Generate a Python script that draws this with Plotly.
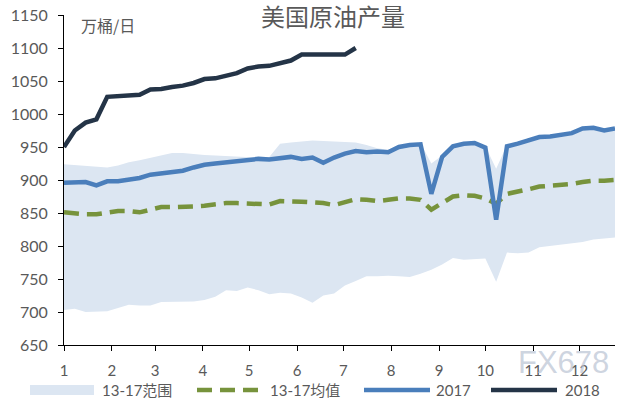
import plotly.graph_objects as go

# ---- data (weekly index 0..51, 10k bbl/day) ----
weeks = list(range(52))
range_low = [703, 705, 700, 700, 701, 706, 711, 710, 710, 715, 715, 715, 716, 718, 723, 733,
             732, 737, 733, 727, 729, 728, 722, 714, 725, 728, 740, 747, 754, 754, 755, 754,
             753, 758, 764, 772, 782, 779, 780, 781, 746, 790, 789, 790, 798, 800, 801, 804,
             806, 810, 811, 813]
range_high = [924, 923, 922, 920, 919, 922, 927, 930, 934, 937, 941, 941, 939, 938, 937, 936,
              935, 934, 934, 935, 955, 957, 958, 960, 959, 958, 958, 957, 953, 948, 946, 952,
              955, 956, 925, 937, 953, 957, 958, 951, 917, 953, 957, 962, 967, 968, 970, 973,
              980, 981, 977, 980]
mean_1317 = [851, 849, 848, 848, 851, 853, 853, 851, 855, 859, 859, 859, 860, 861, 863, 865,
             865, 864, 864, 863, 868, 868, 867, 866, 865, 862, 866, 871, 870, 868, 870, 872,
             872, 870, 855, 866, 875, 877, 876, 872, 864, 879, 882, 886, 890, 891, 892, 894,
             897, 899, 899, 900]
y2017 = [896, 896, 897, 892, 898, 898, 900, 903, 908, 910, 912, 914, 919, 923, 925, 927,
         929, 931, 932, 931, 933, 935, 932, 934, 926, 934, 940, 944, 942, 943, 942, 950,
         953, 954, 879, 935, 951, 955, 956, 949, 840, 951, 955, 960, 965, 966, 968, 971,
         978, 979, 975, 978]
y2018 = [950, 975, 987, 992, 1026, 1027, 1027, 1029, 1037, 1038, 1041, 1043, 1047, 1053,
         1054, 1058, 1062, 1069, 1072, 1073, 1077, 1081, 1090, 1090, 1090, 1090, 1090, 1100]

series_names = ["13-17范围", "13-17均值", "2017", "2018"]
month_days = [31, 28, 31, 30, 31, 30, 31, 31, 30, 31, 30, 31]
month_labels = [str(m) for m in range(1, 13)]
y_ticks = list(range(650, 1151, 50))

cum = [0]
for d in month_days[:-1]:
    cum.append(cum[-1] + d)
month_tickvals = [c / 7 for c in cum]

BAND = "#DCE6F2"
BLUE = "#4A7EBB"
DARK = "#243447"
GREEN = "#77933C"
TXT = "#595959"
FONT = "Lato, 'Noto Sans CJK SC', sans-serif"
CJK = "'Noto Sans CJK SC', sans-serif"

# plot area geometry (pixels) for placing the hand-made legend
L, R, T, B = 64, 25, 15, 55
W, H = 640, 400
PW, PH = W - L - R, H - T - B


def px(x):
    return (x - L) / PW


def py(y):
    return (H - B - y) / PH


fig = go.Figure()
fig.add_trace(go.Scatter(x=weeks, y=range_low, mode="lines", line=dict(width=0, color=BAND),
                         hoverinfo="skip", showlegend=False))
fig.add_trace(go.Scatter(x=weeks, y=range_high, mode="lines", line=dict(width=0, color=BAND),
                         fill="tonexty", fillcolor=BAND, name=series_names[0], showlegend=False))
fig.add_trace(go.Scatter(x=weeks, y=mean_1317, mode="lines",
                         line=dict(width=4.5, color=GREEN, dash="15px,8px"),
                         name=series_names[1], showlegend=False))
fig.add_trace(go.Scatter(x=weeks, y=y2017, mode="lines",
                         line=dict(width=4.5, color=BLUE), name=series_names[2], showlegend=False))
fig.add_trace(go.Scatter(x=weeks[:len(y2018)], y=y2018, mode="lines",
                         line=dict(width=4.5, color=DARK), name=series_names[3], showlegend=False))

# custom legend (layout only)
leg_y = 390
shapes = [
    dict(type="rect", xref="paper", yref="paper", x0=px(30), x1=px(94),
         y0=py(385), y1=py(395), fillcolor=BAND, line=dict(width=0)),
    dict(type="line", xref="paper", yref="paper", x0=px(197), x1=px(262), y0=py(leg_y),
         y1=py(leg_y), line=dict(color=GREEN, width=4.5, dash="15px,8px")),
    dict(type="line", xref="paper", yref="paper", x0=px(364), x1=px(430), y0=py(leg_y),
         y1=py(leg_y), line=dict(color=BLUE, width=4.5)),
    dict(type="line", xref="paper", yref="paper", x0=px(491), x1=px(557), y0=py(leg_y),
         y1=py(leg_y), line=dict(color=DARK, width=4.5)),
]
leg_text_x = [100, 268, 434, 563]
annotations = [
    dict(text=series_names[i], xref="paper", yref="paper", x=px(leg_text_x[i]), y=py(leg_y),
         xanchor="left", yanchor="middle", showarrow=False,
         font=dict(size=15, color=TXT, family=FONT))
    for i in range(4)
]
annotations += [
    dict(text="美国原油产量", xref="paper", yref="paper", x=px(333), y=py(15),
         xanchor="center", yanchor="middle", showarrow=False,
         font=dict(size=24, color=TXT, family=CJK)),
    dict(text="万桶/日", xref="paper", yref="paper", x=px(79), y=py(25), xanchor="left",
         yanchor="middle", showarrow=False, font=dict(size=16, color=TXT, family=CJK)),
    dict(text="FX678", xref="paper", yref="paper", x=px(611), y=py(363), xanchor="right",
         yanchor="middle", showarrow=False,
         font=dict(size=31, color="rgba(185,194,210,0.7)", family="'Liberation Sans', sans-serif")),
]

fig.update_layout(
    width=W, height=H,
    margin=dict(l=L, r=R, t=T, b=B, autoexpand=False),
    paper_bgcolor="white", plot_bgcolor="white",
    font=dict(family=FONT, color=TXT, size=15),
    showlegend=False,
    xaxis=dict(range=[0, 51], tickmode="array", tickvals=month_tickvals, ticktext=month_labels,
               showgrid=False, zeroline=False, showline=True, linecolor="black", linewidth=1,
               ticks="outside", ticklen=5, tickcolor="black", ticklabelstandoff=7,
               tickfont=dict(size=15, color=TXT)),
    yaxis=dict(range=[650, 1150], tickmode="array", tickvals=y_ticks,
               showgrid=False, zeroline=False, showline=True, linecolor="black", linewidth=1,
               ticks="outside", ticklen=5, tickcolor="black", ticklabelstandoff=7,
               tickfont=dict(size=16, color=TXT)),
    shapes=shapes,
    annotations=annotations,
)

fig.write_html("out.html")
